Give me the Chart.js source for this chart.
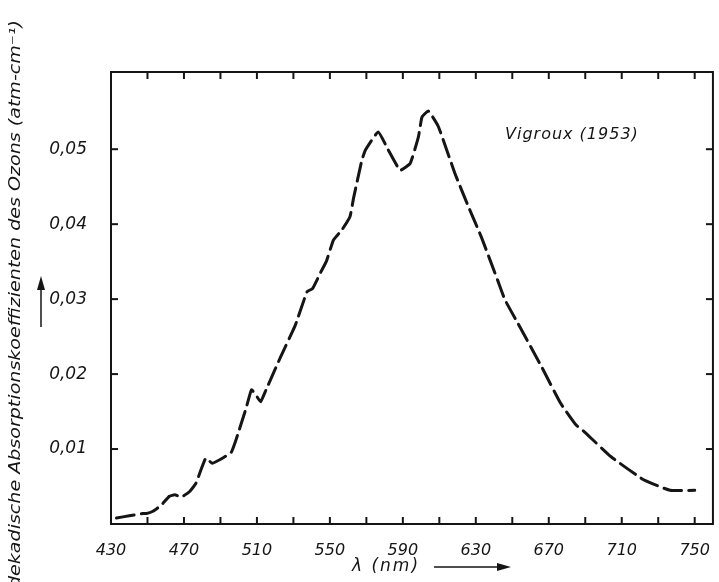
<!DOCTYPE html>
<html>
<head>
<meta charset="utf-8">
<script src="https://cdn.jsdelivr.net/npm/chart.js@4.4.0/dist/chart.umd.min.js"></script>
<style>
  html, body { margin: 0; padding: 0; background: #fff; }
  #wrap { width: 719px; height: 582px; }
</style>
</head>
<body>
<div id="wrap"><canvas id="c"></canvas></div>
<script>
// Vigroux (1953), ozone absorption coefficient
const wavelength = [433, 440, 447.5, 449.5, 453, 457.5, 462, 465, 468.5, 473, 476.5, 482, 485.5, 492, 496, 498.5,
  504, 507, 509.5, 512, 515, 517, 523, 531, 537.5, 540.5, 545, 548, 552, 556.5, 561, 563, 567.5, 569.5,
  576.5, 582, 588.5, 594, 598.5, 600.5, 604, 609.5, 618.5, 626, 633, 642, 646, 653, 666, 676.5, 685,
  689.5, 704, 722, 736.5, 750];
const absorption = [0.0008, 0.0011, 0.0014, 0.0014, 0.0017, 0.0025, 0.0037, 0.0039, 0.0036, 0.0043, 0.0054, 0.0088,
  0.0081, 0.0089, 0.0096, 0.0112, 0.0154, 0.0179, 0.0172, 0.0163, 0.0179, 0.0190, 0.0223, 0.0265, 0.0310,
  0.0314, 0.0336, 0.0350, 0.0379, 0.0392, 0.0410, 0.0435, 0.0485, 0.0499, 0.0523, 0.0499, 0.0472, 0.0481,
  0.0516, 0.0543, 0.0551, 0.0530, 0.0468, 0.0423, 0.0383, 0.0325, 0.0299, 0.0268, 0.0210, 0.0161, 0.0132,
  0.0123, 0.0090, 0.0059, 0.0045, 0.0045];

const xTicks = [430, 450, 470, 490, 510, 530, 550, 570, 590, 610, 630, 650, 670, 690, 710, 730, 750];
const xTickLabels = ['430', '', '470', '', '510', '', '550', '', '590', '', '630', '', '670', '', '710', '', '750'];
const yTicks = [0.01, 0.02, 0.03, 0.04, 0.05];
const yTickLabels = ['0,01', '0,02', '0,03', '0,04', '0,05'];

const ink = '#151515';
const font = '"DejaVu Sans", sans-serif';

function line(ctx, x1, y1, x2, y2) {
  ctx.beginPath();
  ctx.moveTo(x1, y1);
  ctx.lineTo(x2, y2);
  ctx.stroke();
}

// box, inward ticks, titles and arrows
const frame = {
  id: 'frame',
  afterDraw(chart) {
    const { ctx, chartArea: a, scales: { x, y } } = chart;
    ctx.save();
    ctx.strokeStyle = ink;
    ctx.fillStyle = ink;
    ctx.lineWidth = 2;
    ctx.strokeRect(a.left, a.top, a.right - a.left, a.bottom - a.top);

    xTicks.forEach(v => {
      const px = x.getPixelForValue(v);
      line(ctx, px, a.bottom, px, a.bottom - 7);
      line(ctx, px, a.top, px, a.top + 7);
    });
    yTicks.forEach(v => {
      const py = y.getPixelForValue(v);
      line(ctx, a.left, py, a.left + 7, py);
      line(ctx, a.right, py, a.right - 7, py);
    });

    // legend text
    ctx.font = 'italic 16px ' + font;
    ctx.textBaseline = 'middle';
    ctx.textAlign = 'left';
    ctx.letterSpacing = '1px';
    ctx.fillText('Vigroux (1953)', 505, 135);

    // x title + arrow
    ctx.font = 'italic 17px ' + font;
    ctx.letterSpacing = '2px';
    ctx.fillText('\u03bb (nm)', 352, 567);
    ctx.lineWidth = 1.5;
    line(ctx, 434, 567, 500, 567);
    ctx.beginPath();
    ctx.moveTo(511, 567); ctx.lineTo(497, 563); ctx.lineTo(497, 571); ctx.closePath(); ctx.fill();

    // y title, rotated
    const yTitle = 'dekadische Absorptionskoeffizienten des Ozons (atm-cm\u207b\u00b9)';
    ctx.save();
    ctx.translate(16, 588);
    ctx.rotate(-Math.PI / 2);
    ctx.letterSpacing = '0px';
    ctx.font = 'italic 15px ' + font;
    const w = ctx.measureText(yTitle).width;
    ctx.scale(568 / w, 1);
    ctx.fillText(yTitle, 0, 0);
    ctx.restore();

    // y arrow
    line(ctx, 41, 327, 41, 287);
    ctx.beginPath();
    ctx.moveTo(41, 276); ctx.lineTo(37, 290); ctx.lineTo(45, 290); ctx.closePath(); ctx.fill();
    ctx.restore();
  }
};

new Chart(document.getElementById('c'), {
  type: 'scatter',
  data: {
    datasets: [{
      data: wavelength.map((w, i) => ({ x: w, y: absorption[i] })),
      showLine: true,
      borderColor: ink,
      borderWidth: 3,
      borderDash: [18, 7],
      borderCapStyle: 'round',
      tension: 0.12,
      pointRadius: 0
    }]
  },
  options: {
    responsive: true,
    maintainAspectRatio: false,
    animation: false,
    devicePixelRatio: 1,
    layout: { padding: { top: 72, right: 1, left: 0, bottom: 0 } },
    plugins: { legend: { display: false }, tooltip: { enabled: false } },
    scales: {
      x: {
        type: 'linear',
        min: 430,
        max: 760,
        grid: { display: false },
        border: { display: false },
        afterBuildTicks: s => { s.ticks = xTicks.map(v => ({ value: v })); },
        afterFit: s => { s.height = 58; },
        ticks: {
          autoSkip: false,
          maxRotation: 0,
          padding: 9,
          color: ink,
          font: { family: font, style: 'italic', size: 16 },
          callback: (v, i) => xTickLabels[i]
        }
      },
      y: {
        min: 0,
        max: 0.0603,
        grid: { display: false },
        border: { display: false },
        afterBuildTicks: s => { s.ticks = yTicks.map(v => ({ value: v })); },
        afterFit: s => { s.width = 111; },
        ticks: {
          autoSkip: false,
          padding: 16,
          color: ink,
          font: { family: font, style: 'italic', size: 17 },
          callback: (v, i) => yTickLabels[i]
        }
      }
    }
  },
  plugins: [frame]
});
</script>
</body>
</html>
